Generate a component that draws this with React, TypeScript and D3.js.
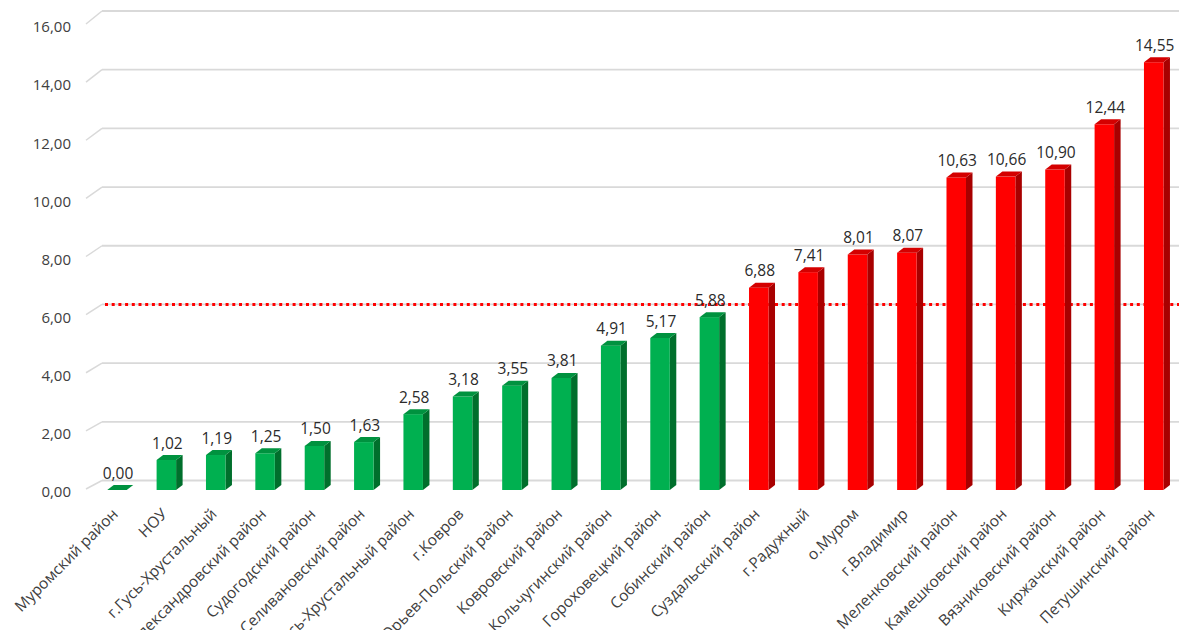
import React, { useEffect } from "react";
import * as d3 from "d3";

const categories: string[] = [
  "Муромский район",
  "НОУ",
  "г.Гусь-Хрустальный",
  "Александровский район",
  "Судогодский район",
  "Селивановский район",
  "Гусь-Хрустальный район",
  "г.Ковров",
  "Юрьев-Польский район",
  "Ковровский район",
  "Кольчугинский район",
  "Гороховецкий район",
  "Собинский район",
  "Суздальский район",
  "г.Радужный",
  "о.Муром",
  "г.Владимир",
  "Меленковский район",
  "Камешковский район",
  "Вязниковский район",
  "Киржачский район",
  "Петушинский район",
];

const values: number[] = [
  0.0, 1.02, 1.19, 1.25, 1.5, 1.63, 2.58, 3.18, 3.55, 3.81, 4.91, 5.17, 5.88,
  6.88, 7.41, 8.01, 8.07, 10.63, 10.66, 10.9, 12.44, 14.55,
];

const yTicks: number[] = [0, 2, 4, 6, 8, 10, 12, 14, 16];
const thresholdValue = 6;

const W = 1179;
const H = 630;

const ruLocale = d3.formatLocale({
  decimal: ",",
  thousands: " ",
  grouping: [3],
  currency: ["", " ₽"],
});
const fmt = ruLocale.format(".2f");

const FONT = "'Open Sans', 'Noto Sans', 'DejaVu Sans', sans-serif";
const TEXT = "#404040";
const VALUE_TEXT = "#2b2b2b";

export default function App() {
  useEffect(() => {
    document.body.style.margin = "0";
  }, []);

  const x = d3
    .scaleBand<string>()
    .domain(categories)
    .range([92.3, 1178.4])
    .paddingInner(0)
    .paddingOuter(0);

  // Planes of the 3-D chart
  const yBar = d3.scaleLinear().domain([0, 16]).range([490, 19.6]);
  const yFront = d3.scaleLinear().domain([0, 16]).range([489, 24]);
  const yBack = d3.scaleLinear().domain([0, 16]).range([480.5, 11]);

  const axisFrontX = 86;
  const wallX = 102;
  const barW = 19.5;
  const depthX = 6.5;
  const depthY = 5;

  const green = { front: "#00b050", top: "#00923f", side: "#006f2c" };
  const red = { front: "#ff0000", top: "#d40000", side: "#a80000" };

  return (
    <svg
      width={W}
      height={H}
      style={{ position: "absolute", left: 0, top: 0, background: "#fff" }}
      fontFamily={FONT}
    >
      {/* gridlines on back wall with diagonal floor ticks */}
      {yTicks.map((t) => (
        <g key={"g" + t}>
          <line
            x1={axisFrontX}
            y1={yFront(t)}
            x2={wallX}
            y2={yBack(t)}
            stroke="#d9d9d9"
            strokeWidth={1.5}
          />
          <line
            x1={wallX}
            y1={yBack(t)}
            x2={W}
            y2={yBack(t)}
            stroke="#d9d9d9"
            strokeWidth={1.8}
          />
          <text
            x={71}
            y={yFront(t) + 3}
            dy="0.35em"
            textAnchor="end"
            fontSize={15}
            fill={TEXT}
          >
            {fmt(t)}
          </text>
        </g>
      ))}

      {/* threshold dotted line */}
      <line
        x1={wallX + 3}
        y1={yBack(thresholdValue)}
        x2={W}
        y2={yBack(thresholdValue)}
        stroke="#ff0000"
        strokeWidth={3}
        strokeDasharray="3 3.7"
      />

      {/* bars */}
      {categories.map((c, i) => {
        const v = values[i];
        const col = v < thresholdValue ? green : red;
        const cx = (x(c) as number) + x.bandwidth() / 2;
        const x0 = cx - barW / 2;
        const x1 = cx + barW / 2;
        const yt = yBar(v);
        const yb = yBar(0);
        const top = `M${x0},${yt} L${x0 + depthX},${yt - depthY} L${x1 + depthX},${yt - depthY} L${x1},${yt} Z`;
        const side = `M${x1},${yt} L${x1 + depthX},${yt - depthY} L${x1 + depthX},${yb - depthY} L${x1},${yb} Z`;
        return (
          <g key={c}>
            {v > 0 && <path d={side} fill={col.side} />}
            {v > 0 && (
              <rect x={x0} y={yt} width={barW} height={yb - yt} fill={col.front} />
            )}
            <path d={top} fill={col.top} />
            <text
              x={cx + 1}
              y={yt - 11.5}
              textAnchor="middle"
              fontSize={15.5}
              fill={VALUE_TEXT}
            >
              {fmt(v)}
            </text>
          </g>
        );
      })}

      {/* category labels */}
      {categories.map((c) => {
        const cx = (x(c) as number) + x.bandwidth() / 2 + 2;
        const ly = 515;
        return (
          <text
            key={"l" + c}
            x={cx}
            y={ly}
            textAnchor="end"
            fontSize={15.5}
            fill={TEXT}
            transform={`rotate(-45, ${cx}, ${ly})`}
          >
            {c}
          </text>
        );
      })}
    </svg>
  );
}
